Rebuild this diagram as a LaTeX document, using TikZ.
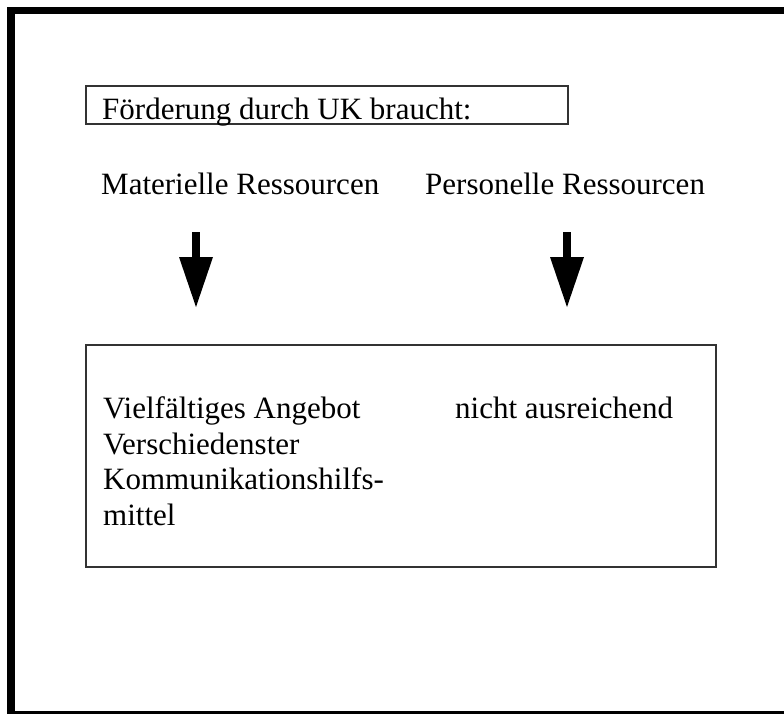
\documentclass[tikz,border=0pt]{standalone}
\usepackage{fontspec}
\setmainfont{Liberation Serif}
\usetikzlibrary{arrows.meta}
\begin{document}
\begin{tikzpicture}[x=1pt,y=-1pt,
  every node/.style={inner sep=0pt,anchor=base west,font=\fontsize{31}{35.5}\selectfont},
  box/.style={draw=black!80,line width=1.6pt},
  bigarrow/.style={line width=7.5pt,-{Triangle[width=34pt,length=50pt,line width=0pt]}}]
\fill[white] (0,0) rectangle (784,714);
% outer frame
\fill (7,7) rectangle (784,14);
\fill (7,7) rectangle (15,714);
\fill (7,711) rectangle (784,714);
% heading
\draw[box] (86,86) rectangle (568,124);
\node (head) at (102,120) {Förderung durch UK braucht:};
\node (mat) at (101,194) {Materielle Ressourcen};
\node (pers) at (425,194) {Personelle Ressourcen};
% arrows
\coordinate (matA) at (196,232);
\coordinate (matB) at (196,307);
\coordinate (persA) at (567,232);
\coordinate (persB) at (567,307);
\draw[bigarrow] (matA) -- (matB);
\draw[bigarrow] (persA) -- (persB);
% result box (base of a multi-line node = last line)
\draw[box] (86,345) rectangle (716,567);
\node[align=left] (mittel) at (103,525) {Vielfältiges Angebot\\Verschiedenster\\Kommunikationshilfs-\\mittel};
\node (nicht) at (455,418) {nicht ausreichend};
\end{tikzpicture}
\end{document}
